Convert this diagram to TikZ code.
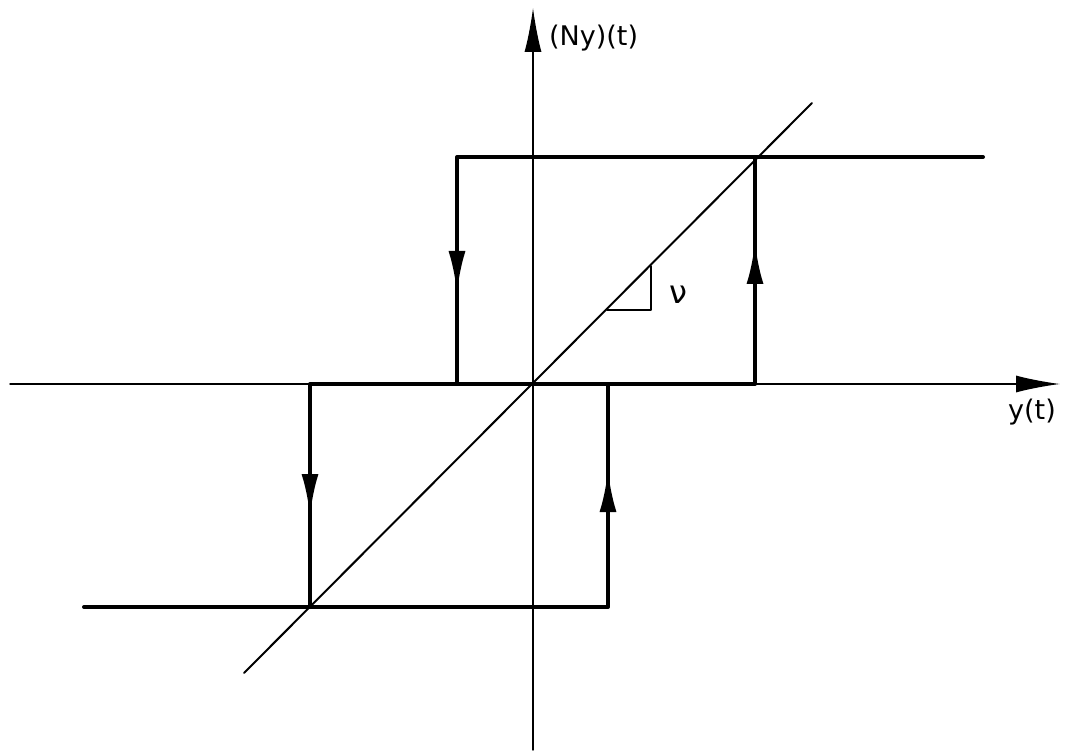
\documentclass[tikz,border=0pt]{standalone}
\usepackage{fontspec}
\setmainfont{DejaVu Sans}
\usetikzlibrary{arrows.meta}

\tikzset{axisline/.style={draw=black,line width=1.4pt},
  hystline/.style={draw=black,line width=4pt},
  slopeline/.style={draw=black,line width=2pt},
  flowtip/.style={hystline,-{Latex[length=42pt,width=17pt]}},
  axistip/.style={axisline,-{Latex[length=44pt,width=17pt]}},
  axislabel/.style={font=\fontsize{27}{32}\selectfont,inner sep=0pt}}

\begin{document}
\begin{tikzpicture}[x=1pt,y=-1pt,>=Latex,line cap=round,line join=round]
\path[fill=white] (0,0) rectangle (1066,754);
% axes
\coordinate (xl) at (10,384); \coordinate (xr) at (1060,384);
\coordinate (yb) at (533,750); \coordinate (yt) at (533,8);
\draw[axistip] (xl) -- (xr);
\draw[axistip] (yb) -- (yt);
\node[axislabel,anchor=west] (ylab) at (549,38) {(Ny)(t)};
\node[axislabel] (xlab) at (1032,412) {y(t)};
% diagonal with slope nu
\coordinate (dlo) at (244,673); \coordinate (dhi) at (812,103);
\draw[slopeline] (dlo) -- (dhi);
\coordinate (ta) at (607,310); \coordinate (tb) at (651,310); \coordinate (tc) at (651,266);
\draw[slopeline] (ta) -- (tb) -- (tc);
\node[font=\fontsize{32}{36}\selectfont,inner sep=0pt] (nu) at (678,295) {ν};
% upper loop
\coordinate (ua) at (983,157); \coordinate (ub) at (457,157); \coordinate (uc) at (457,384);
\coordinate (ud) at (755,384); \coordinate (ue) at (755,157);
\draw[hystline] (ua) -- (ub) -- (uc) -- (ud) -- (ue);
% lower loop
\coordinate (la) at (84,607); \coordinate (lb) at (608,607); \coordinate (lc) at (608,384);
\coordinate (ld) at (310,384); \coordinate (le) at (310,607);
\draw[hystline] (la) -- (lb) -- (lc) -- (ld) -- (le);
% direction arrows
\draw[flowtip] (457,248) -- (457,293);
\draw[flowtip] (755,290) -- (755,242);
\draw[flowtip] (310,470) -- (310,516);
\draw[flowtip] (608,514) -- (608,470);
\end{tikzpicture}
\end{document}
